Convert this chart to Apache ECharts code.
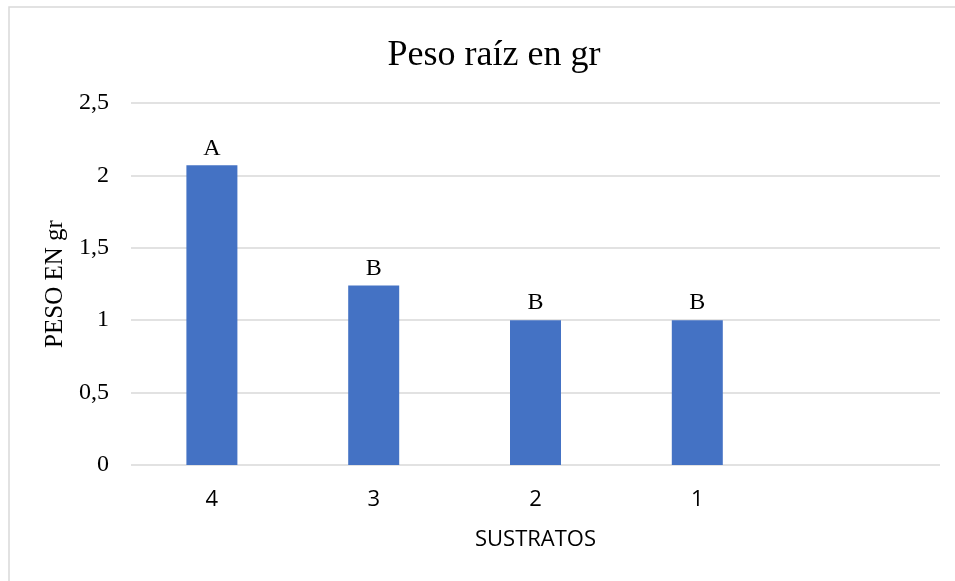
<!DOCTYPE html>
<html>
<head>
<meta charset="utf-8">
<script src="https://cdn.jsdelivr.net/npm/echarts@6/dist/echarts.min.js"></script>
<style>
    html, body { margin: 0; padding: 0; background: #fff; }
    #chart { width: 955px; height: 581px; }
</style>
</head>
<body>
<div id="chart"></div>
<script>
const sustratos = ["4", "3", "2", "1", ""]
const peso = [2.07, 1.24, 1.0, 1.0, null]
const letras = ["A", "B", "B", "B", ""]
const yTicks = [0, 0.5, 1, 1.5, 2, 2.5]

const chart = echarts.init(document.getElementById("chart"))
const serif = "'Liberation Serif', 'Times New Roman', serif"
const sans = "'Open Sans', 'Liberation Sans', sans-serif"

const option = {
    animation: false,
    backgroundColor: "#fff",
    graphic: [{
        type: "rect",
        shape: { x: 9, y: 7, width: 960, height: 600 },
        style: { fill: "none", stroke: "#d9d9d9", lineWidth: 1.5 },
        silent: true
    }],
    title: {
        text: "Peso raíz en gr",
        left: 489,
        top: 33,
        textAlign: "center",
        textStyle: {
            fontFamily: serif,
            fontSize: 36,
            fontWeight: "normal",
            color: "#000"
        }
    },
    grid: {
        left: 131,
        right: 15,
        top: 103,
        bottom: 116
    },
    xAxis: {
        type: "category",
        data: sustratos,
        name: "SUSTRATOS",
        nameLocation: "middle",
        nameGap: 64,
        nameTextStyle: {
            fontFamily: sans,
            fontSize: 22,
            color: "#000"
        },
        axisLine: { show: false },
        axisTick: { show: false },
        axisLabel: {
            margin: 24,
            fontFamily: sans,
            fontSize: 22,
            color: "#000"
        }
    },
    yAxis: {
        type: "value",
        min: 0,
        max: 2.5,
        interval: 0.5,
        name: "PESO EN gr",
        nameLocation: "middle",
        nameGap: 61,
        nameTextStyle: {
            fontFamily: serif,
            fontSize: 25,
            color: "#000"
        },
        axisLine: { show: false },
        axisTick: { show: false },
        splitLine: {
            lineStyle: { color: "#d9d9d9", width: 1.5 }
        },
        axisLabel: {
            margin: 22,
            fontFamily: serif,
            fontSize: 24,
            color: "#000",
            formatter: v => yTicks.includes(v) ? String(v).replace(".", ",") : ""
        }
    },
    series: [{
        type: "bar",
        data: peso,
        barWidth: 51,
        itemStyle: { color: "#4472c4" },
        label: {
            show: true,
            position: "top",
            distance: 5,
            fontFamily: serif,
            fontSize: 24,
            color: "#000",
            formatter: p => letras[p.dataIndex]
        }
    }]
}

chart.setOption(option, true)
</script>
</body>
</html>
